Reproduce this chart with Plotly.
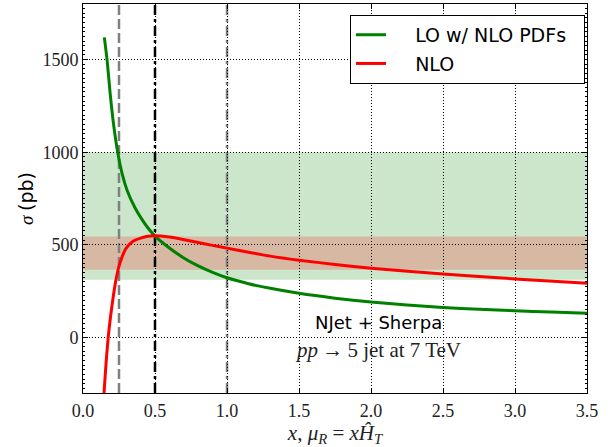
import plotly.graph_objects as go

# LO with NLO PDFs
lo_x = [0.148, 0.167, 0.1875, 0.213, 0.241, 0.273, 0.306, 0.361, 0.407, 0.45, 0.5, 0.6, 0.694,
        0.8, 0.9, 1.0, 1.15, 1.3, 1.5, 1.75, 2.0, 2.25, 2.5, 2.75, 3.0, 3.25, 3.5]
lo_y = [1620, 1500, 1326, 1146, 1000, 880, 795, 700, 640, 592, 547, 483, 432,
        386, 351, 322, 290, 265, 238, 212, 191, 175, 162, 152, 144, 137, 130]

# NLO
nlo_x = [0.146, 0.16, 0.175, 0.19, 0.21, 0.23, 0.25, 0.27, 0.30, 0.35, 0.4, 0.45, 0.5,
         0.6, 0.694, 0.8, 0.9, 1.0, 1.15, 1.3, 1.5, 1.75, 2.0, 2.5, 3.0, 3.5]
nlo_y = [-300, -140, 0, 105, 220, 315, 385, 432, 482, 520, 536, 546, 549,
         542, 529, 512, 497, 482, 460, 439, 417, 394, 374, 342, 316, 293]

# scale-variation bands (lower, upper)
lo_band = [311, 1000]
nlo_band = [365, 545]

# reference scale choices
scale_dashed = [0.25]
scale_central = [0.5]
scale_other = [1.0]

x_ticks = [0.0, 0.5, 1.0, 1.5, 2.0, 2.5, 3.0, 3.5]
y_ticks = [0, 500, 1000, 1500]

serif = "Liberation Serif"
sans = "DejaVu Sans"
pad = "\u00a0" * 4
tail = "\u00a0" * 2

fig = go.Figure()

fig.add_trace(go.Scatter(x=lo_x, y=lo_y, mode="lines", name=pad + "LO w/ NLO PDFs" + tail,
                         line=dict(color="#008000", width=3, shape="spline", smoothing=0.6),
                         legendgroup="a"))
fig.add_trace(go.Scatter(x=nlo_x, y=nlo_y, mode="lines", name=pad + "NLO",
                         line=dict(color="#ff0000", width=3, shape="spline", smoothing=0.6),
                         legendgroup="b"))

shapes = [
    dict(type="rect", xref="paper", yref="y", x0=0, x1=1, y0=lo_band[0], y1=lo_band[1],
         fillcolor="rgba(0,128,0,0.2)", line=dict(width=0), layer="below"),
    dict(type="rect", xref="paper", yref="y", x0=0, x1=1, y0=nlo_band[0], y1=nlo_band[1],
         fillcolor="rgba(255,0,0,0.2)", line=dict(width=0), layer="below"),
]
for xv in scale_dashed:
    shapes.append(dict(type="line", xref="x", yref="paper", x0=xv, x1=xv, y0=0, y1=1,
                       line=dict(color="#808080", width=2.5, dash="10px,4px"), layer="below"))
for xv in scale_central:
    shapes.append(dict(type="line", xref="x", yref="paper", x0=xv, x1=xv, y0=0, y1=1,
                       line=dict(color="black", width=2.5, dash="10px,4px,3px,4px"), layer="below"))
for xv in scale_other:
    shapes.append(dict(type="line", xref="x", yref="paper", x0=xv, x1=xv, y0=0, y1=1,
                       line=dict(color="#808080", width=2.5, dash="10px,4px,3px,4px"), layer="below"))

fig.update_layout(
    width=614, height=447,
    margin=dict(l=83, r=27, t=4, b=54),
    paper_bgcolor="white", plot_bgcolor="rgba(0,0,0,0)",
    shapes=shapes,
    showlegend=True,
    legend=dict(x=0.996, y=0.972, xanchor="right", yanchor="top",
                bgcolor="white", bordercolor="black", borderwidth=1,
                font=dict(family=sans, size=19, color="black"),
                traceorder="grouped", tracegroupgap=1),
    annotations=[
        dict(x=2.05, y=79, xref="x", yref="y", text="NJet + Sherpa", showarrow=False,
             font=dict(family=sans, size=18, color="black")),
        dict(x=2.05, y=-69, xref="x", yref="y",
             text="<i>pp</i>\u2009→\u20095 jet at 7 TeV", showarrow=False,
             font=dict(family=serif, size=21, color="#222")),
    ],
)

fig.update_xaxes(range=[0, 3.5], tickvals=x_ticks, ticktext=[f"{v:.1f}" for v in x_ticks],
                 automargin=False,
                 showgrid=True, gridcolor="black", griddash="1px,2px", gridwidth=1,
                 zeroline=False, showline=True, linecolor="black", linewidth=1, mirror="allticks",
                 ticks="inside", ticklen=5, tickcolor="black", ticklabelstandoff=1,
                 tickfont=dict(family=serif, size=18, color="#222"),
                 title=dict(text="<i>x</i>, <i>μ<sub>R</sub></i> = <i>xĤ<sub>T</sub></i>",
                            font=dict(family=serif, size=21, color="#222"), standoff=6))
fig.update_yaxes(range=[-300, 1800], tickvals=y_ticks,
                 automargin=False,
                 showgrid=True, gridcolor="black", griddash="1px,2px", gridwidth=1,
                 zeroline=False, showline=True, linecolor="black", linewidth=1, mirror="allticks",
                 ticks="inside", ticklen=5, tickcolor="black",
                 minor=dict(dtick=25, ticks="inside", ticklen=2, tickcolor="black", showgrid=False),
                 tickfont=dict(family=serif, size=18, color="#222"),
                 title=dict(text="<i>σ</i> <span style=\"font-family:'DejaVu Sans'\">(pb)</span>",
                            font=dict(family=serif, size=19, color="black"), standoff=3))

fig.write_html("out.html", config={"displayModeBar": False},
               post_script="document.body.style.margin='0';")
